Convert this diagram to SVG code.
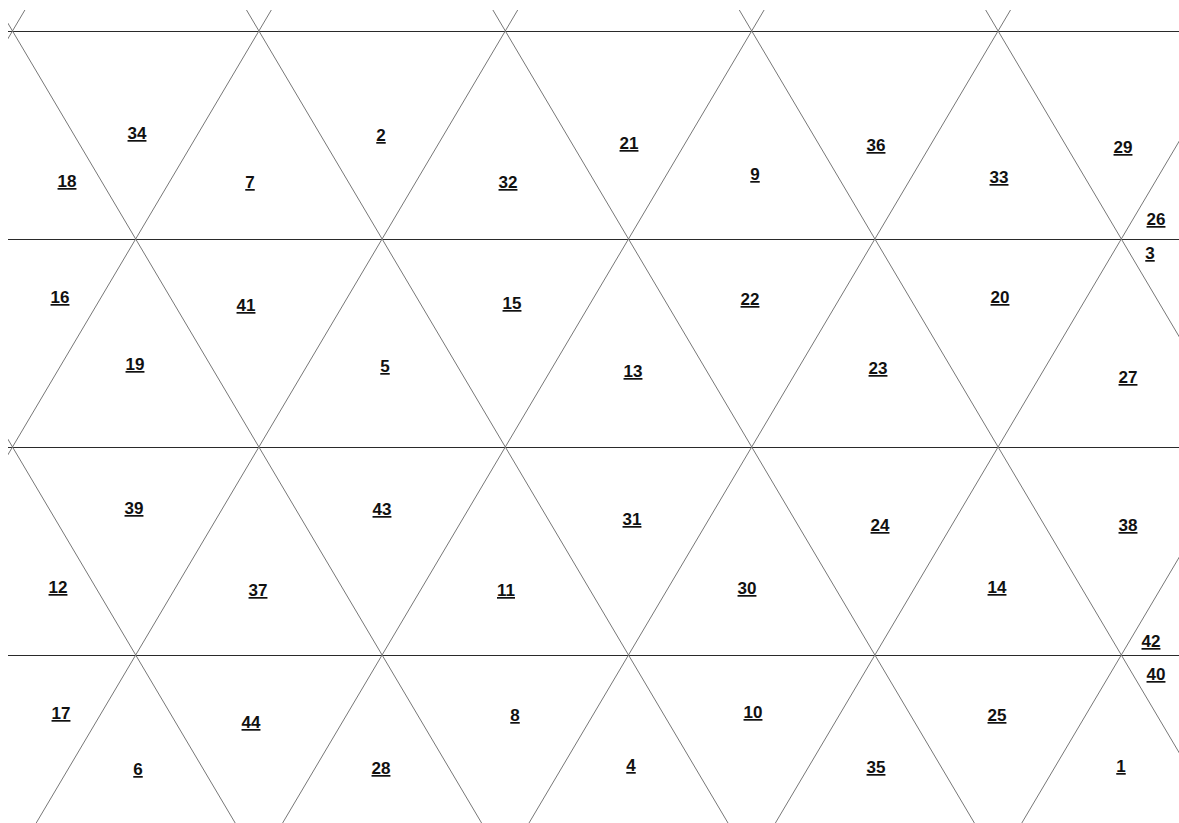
<svg xmlns="http://www.w3.org/2000/svg" width="1179" height="823" viewBox="0 0 1179 823">
<defs>
<clipPath id="clip"><rect x="8" y="10" width="1171" height="813"/></clipPath>
<style>
.h{stroke:#2a2a2a;stroke-width:1;fill:none}
.d{stroke:#777;stroke-width:1;fill:none}
text{font-family:"Liberation Sans",Arial,sans-serif;font-size:17px;font-weight:bold;fill:#111;text-anchor:middle;text-decoration:underline}
</style>
</defs>
<rect width="1179" height="823" fill="#fff"/>
<g id="connectors" clip-path="url(#clip)">
<line class="h" x1="8" y1="31.5" x2="1179" y2="31.5"/>
<line class="h" x1="8" y1="239.5" x2="1179" y2="239.5"/>
<line class="h" x1="8" y1="447.5" x2="1179" y2="447.5"/>
<line class="h" x1="8" y1="655.5" x2="1179" y2="655.5"/>
<line class="d" x1="-246.3" y1="10" x2="235.2" y2="823"/>
<line class="d" x1="0.06" y1="10" x2="481.6" y2="823"/>
<line class="d" x1="246.5" y1="10" x2="728.0" y2="823"/>
<line class="d" x1="492.9" y1="10" x2="974.4" y2="823"/>
<line class="d" x1="739.3" y1="10" x2="1220.8" y2="823"/>
<line class="d" x1="985.7" y1="10" x2="1467.2" y2="823"/>
<line class="d" x1="24.9" y1="10" x2="-456.6" y2="823"/>
<line class="d" x1="271.3" y1="10" x2="-210.2" y2="823"/>
<line class="d" x1="517.7" y1="10" x2="36.2" y2="823"/>
<line class="d" x1="764.1" y1="10" x2="282.6" y2="823"/>
<line class="d" x1="1010.5" y1="10" x2="529.0" y2="823"/>
<line class="d" x1="1256.9" y1="10" x2="775.4" y2="823"/>
<line class="d" x1="1503.3" y1="10" x2="1021.8" y2="823"/>
</g>
<g id="n34"><text x="137" y="139">34</text></g>
<g id="n18"><text x="67" y="187">18</text></g>
<g id="n7"><text x="250" y="188">7</text></g>
<g id="n2"><text x="381" y="141">2</text></g>
<g id="n32"><text x="508" y="188">32</text></g>
<g id="n21"><text x="629" y="149">21</text></g>
<g id="n9"><text x="755" y="180">9</text></g>
<g id="n36"><text x="876" y="151">36</text></g>
<g id="n33"><text x="999" y="183">33</text></g>
<g id="n29"><text x="1123" y="153">29</text></g>
<g id="n26"><text x="1156" y="225">26</text></g>
<g id="n3"><text x="1150" y="259">3</text></g>
<g id="n16"><text x="60" y="303">16</text></g>
<g id="n41"><text x="246" y="311">41</text></g>
<g id="n15"><text x="512" y="309">15</text></g>
<g id="n22"><text x="750" y="305">22</text></g>
<g id="n20"><text x="1000" y="303">20</text></g>
<g id="n19"><text x="135" y="370">19</text></g>
<g id="n5"><text x="385" y="372">5</text></g>
<g id="n13"><text x="633" y="377">13</text></g>
<g id="n23"><text x="878" y="374">23</text></g>
<g id="n27"><text x="1128" y="383">27</text></g>
<g id="n39"><text x="134" y="514">39</text></g>
<g id="n43"><text x="382" y="515">43</text></g>
<g id="n31"><text x="632" y="525">31</text></g>
<g id="n24"><text x="880" y="531">24</text></g>
<g id="n38"><text x="1128" y="531">38</text></g>
<g id="n12"><text x="58" y="593">12</text></g>
<g id="n37"><text x="258" y="596">37</text></g>
<g id="n11"><text x="506" y="596">11</text></g>
<g id="n30"><text x="747" y="594">30</text></g>
<g id="n14"><text x="997" y="593">14</text></g>
<g id="n42"><text x="1151" y="647">42</text></g>
<g id="n40"><text x="1156" y="680">40</text></g>
<g id="n17"><text x="61" y="719">17</text></g>
<g id="n44"><text x="251" y="728">44</text></g>
<g id="n8"><text x="515" y="721">8</text></g>
<g id="n10"><text x="753" y="718">10</text></g>
<g id="n25"><text x="997" y="721">25</text></g>
<g id="n6"><text x="138" y="775">6</text></g>
<g id="n28"><text x="381" y="774">28</text></g>
<g id="n4"><text x="631" y="771">4</text></g>
<g id="n35"><text x="876" y="773">35</text></g>
<g id="n1"><text x="1121" y="772">1</text></g>
</svg>
